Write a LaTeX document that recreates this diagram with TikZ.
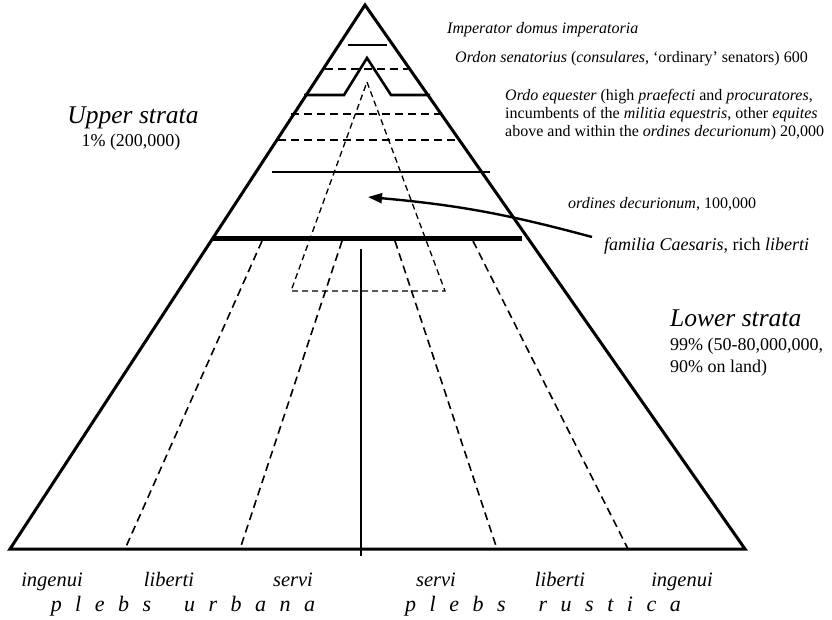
\documentclass[tikz,border=0pt]{standalone}
\usepackage{fontspec}
\setmainfont{Liberation Serif}
\usetikzlibrary{arrows.meta}
\newcommand{\lsp}{\hspace{13.5pt}}
\newcommand{\wsp}{\hspace{33pt}}
\begin{document}
\begin{tikzpicture}[x=1pt,y=-1pt,
  side/.style={line width=3pt, line join=miter},
  solidline/.style={line width=2.6pt},
  thickline/.style={line width=5pt},
  thinsolid/.style={line width=2pt},
  dashline/.style={line width=1.6pt, dash pattern=on 8pt off 5pt},
  innerdash/.style={line width=1.3pt, dash pattern=on 6pt off 4pt},
  lab/.style={font=\fontsize{16}{18}\selectfont, inner sep=0pt, anchor=base west, align=left},
  labbig/.style={font=\fontsize{18}{22}\selectfont, inner sep=0pt, anchor=base west, align=left},
  big/.style={font=\fontsize{25.5}{28}\selectfont\itshape, inner sep=0pt, anchor=base west},
  bot/.style={font=\fontsize{20.5}{22}\selectfont\itshape, inner sep=0pt, anchor=base},
  plebs/.style={font=\fontsize{22}{24}\selectfont\itshape, inner sep=0pt, anchor=base}]
\useasboundingbox (0,0) rectangle (832,620);
% main triangle
\coordinate (A) at (365,5);
\coordinate (BL) at (10,549);
\coordinate (BR) at (745,549);
% strata lines
\draw[thinsolid] (348,45) coordinate (i1) -- (387,45) coordinate (i2);
\draw[dashline] (325,69) coordinate (s1) -- (408,69) coordinate (s2);
\draw[solidline, line join=miter] (304,95) coordinate (e1) -- (344,95) coordinate (e2) -- (367,58) coordinate (e3) -- (391,95) coordinate (e4) -- (430,95) coordinate (e5);
\draw[dashline] (291,114) coordinate (d1) -- (445,114) coordinate (d2);
\draw[dashline] (278,140) coordinate (d3) -- (460,140) coordinate (d4);
\draw[solidline] (272,172) coordinate (o1) -- (490,172) coordinate (o2);
% inner dashed triangle
\draw[innerdash] (367,82) coordinate (t1) -- (445,291) coordinate (t2) -- (291,291) coordinate (t3) -- cycle;
% lower dashed lines
\draw[dashline] (262,241) coordinate (l1) -- (125,549) coordinate (l2);
\draw[dashline] (342,241) coordinate (l3) -- (240,549) coordinate (l4);
\draw[dashline] (395,241) coordinate (r3) -- (497,549) coordinate (r4);
\draw[dashline] (473,241) coordinate (r1) -- (628,549) coordinate (r2);
% thick separator
\draw[thickline] (212,239) coordinate (f1) -- (522,239) coordinate (f2);
% centre vertical
\draw[solidline] (361,249) coordinate (v1) -- (361,556) coordinate (v2);
% triangle outline
\draw[side] (BL) -- (A) -- (BR) -- cycle;
% labels
\node[lab, font=\fontsize{16}{18}\selectfont\itshape] (imp) at (447,34) {Imperator domus imperatoria};
\node[lab] (sen) at (455,63) {\textit{Ordon senatorius} (\textit{consulares}, `ordinary' senators) 600};
\node[lab] (eq) at (505,137) {\textit{Ordo equester} (high \textit{praefecti} and \textit{procuratores},\\incumbents of the \textit{militia equestris}, other \textit{equites}\\above and within the \textit{ordines decurionum}) 20,000};
\node[lab] (dec) at (568,209) {\textit{ordines decurionum}, 100,000};
\node[labbig] (fam) at (604,251) {\textit{familia Caesaris}, rich \textit{liberti}};
\coordinate (tip) at (368,197);
\draw[line width=2.4pt, -{Triangle[length=14pt,width=10pt]}] (592,237) coordinate (as) to[bend right=5] (tip);
\node[big] (low) at (670,326) {Lower strata};
\node[labbig] (low2) at (670,372) {99\% (50-80,000,000,\\90\% on land)};
\node[big, anchor=base] (up) at (133,124) {Upper strata};
\node[labbig, anchor=base] (up2) at (131,147) {1\% (200,000)};
% bottom labels
\node[bot] (b1) at (52,586) {ingenui};
\node[bot] (b2) at (169,586) {liberti};
\node[bot] (b3) at (293,586) {servi};
\node[bot] (b4) at (436,586) {servi};
\node[bot] (b5) at (560,586) {liberti};
\node[bot] (b6) at (682,586) {ingenui};
\node[plebs] (pu) at (183,611) {p\lsp l\lsp e\lsp b\lsp s\wsp u\lsp r\lsp b\lsp a\lsp n\lsp a};
\node[plebs] (pr) at (543,611) {p\lsp l\lsp e\lsp b\lsp s\wsp r\lsp u\lsp s\lsp t\lsp i\lsp c\lsp a};
\end{tikzpicture}
\end{document}
